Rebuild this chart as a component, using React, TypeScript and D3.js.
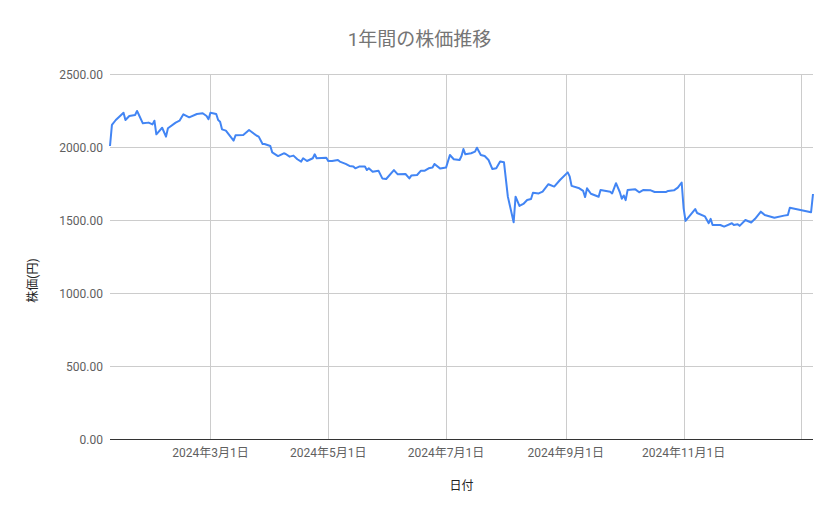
import React, { useEffect, useRef } from "react";
import * as d3 from "d3";

// 日付と終値
const dates = [
  "2024-01-09", "2024-01-10", "2024-01-12", "2024-01-16", "2024-01-17", "2024-01-19", "2024-01-22", "2024-01-23",
  "2024-01-24", "2024-01-26", "2024-01-29", "2024-01-31", "2024-02-01", "2024-02-02", "2024-02-05", "2024-02-07",
  "2024-02-08", "2024-02-12", "2024-02-14", "2024-02-16", "2024-02-19", "2024-02-23", "2024-02-26", "2024-02-28",
  "2024-02-29", "2024-03-01", "2024-03-04", "2024-03-05", "2024-03-06", "2024-03-07", "2024-03-09", "2024-03-13",
  "2024-03-14", "2024-03-18", "2024-03-21", "2024-03-25", "2024-03-26", "2024-03-28", "2024-03-29", "2024-04-01",
  "2024-04-02", "2024-04-05", "2024-04-08", "2024-04-09", "2024-04-11", "2024-04-13", "2024-04-15", "2024-04-17",
  "2024-04-18", "2024-04-20", "2024-04-23", "2024-04-24", "2024-04-25", "2024-04-30", "2024-05-01", "2024-05-03",
  "2024-05-06", "2024-05-07", "2024-05-10", "2024-05-12", "2024-05-14", "2024-05-15", "2024-05-17", "2024-05-20",
  "2024-05-21", "2024-05-22", "2024-05-24", "2024-05-27", "2024-05-29", "2024-05-31", "2024-06-04", "2024-06-06",
  "2024-06-10", "2024-06-12", "2024-06-13", "2024-06-16", "2024-06-18", "2024-06-20", "2024-06-22", "2024-06-24",
  "2024-06-25", "2024-06-28", "2024-07-01", "2024-07-03", "2024-07-05", "2024-07-08", "2024-07-09", "2024-07-10",
  "2024-07-11", "2024-07-14", "2024-07-16", "2024-07-17", "2024-07-19", "2024-07-21", "2024-07-23", "2024-07-25",
  "2024-07-27", "2024-07-29", "2024-07-31", "2024-08-02", "2024-08-05", "2024-08-06", "2024-08-08", "2024-08-10",
  "2024-08-12", "2024-08-14", "2024-08-15", "2024-08-18", "2024-08-20", "2024-08-23", "2024-08-26", "2024-08-29",
  "2024-09-02", "2024-09-03", "2024-09-04", "2024-09-08", "2024-09-10", "2024-09-11", "2024-09-12", "2024-09-14",
  "2024-09-18", "2024-09-19", "2024-09-24", "2024-09-25", "2024-09-27", "2024-09-29", "2024-09-30", "2024-10-01",
  "2024-10-02", "2024-10-03", "2024-10-07", "2024-10-09", "2024-10-11", "2024-10-15", "2024-10-17", "2024-10-23",
  "2024-10-24", "2024-10-27", "2024-10-29", "2024-10-31", "2024-11-01", "2024-11-02", "2024-11-07", "2024-11-08",
  "2024-11-12", "2024-11-14", "2024-11-15", "2024-11-16", "2024-11-20", "2024-11-22", "2024-11-26", "2024-11-27",
  "2024-11-29", "2024-11-30", "2024-12-03", "2024-12-06", "2024-12-08", "2024-12-11", "2024-12-13", "2024-12-18",
  "2024-12-23", "2024-12-25", "2024-12-26", "2025-01-06", "2025-01-07",
];

const prices = [
  2007, 2151, 2185, 2235, 2185, 2212, 2219, 2247,
  2219, 2162, 2167, 2155, 2180, 2087, 2132, 2071,
  2128, 2167, 2180, 2224, 2203, 2226, 2231, 2212,
  2190, 2235, 2226, 2185, 2173, 2121, 2112, 2044,
  2080, 2082, 2116, 2077, 2071, 2021, 2021, 2007,
  1963, 1938, 1957, 1952, 1934, 1941, 1916, 1900,
  1923, 1904, 1923, 1950, 1923, 1927, 1904, 1904,
  1911, 1900, 1884, 1870, 1866, 1854, 1866, 1866,
  1842, 1854, 1831, 1838, 1785, 1781, 1842, 1813,
  1815, 1785, 1804, 1808, 1838, 1838, 1854, 1859,
  1884, 1852, 1859, 1945, 1916, 1911, 1938, 1986,
  1950, 1957, 1968, 1995, 1945, 1938, 1911, 1849,
  1854, 1900, 1895, 1660, 1484, 1660, 1596, 1610,
  1637, 1644, 1687, 1682, 1695, 1745, 1729, 1774,
  1826, 1799, 1734, 1717, 1699, 1657, 1717, 1680,
  1659, 1705, 1694, 1682, 1752, 1690, 1645, 1668,
  1636, 1705, 1710, 1690, 1705, 1703, 1692, 1692,
  1699, 1703, 1722, 1757, 1582, 1494, 1575, 1548,
  1525, 1478, 1508, 1466, 1466, 1455, 1478, 1466,
  1471, 1460, 1500, 1483, 1508, 1557, 1534, 1516,
  1530, 1534, 1584, 1553, 1678,
];

const yTicks = [0, 500, 1000, 1500, 2000, 2500];

const title = "1年間の株価推移";
const xTitle = "日付";
const yTitle = "株価(円)";

const W = 839;
const H = 519;
const margin = { top: 74, right: 26, bottom: 80, left: 110 };
const FONT = "Roboto, 'Noto Sans CJK JP', sans-serif";

export default function App() {
  const svgRef = useRef<SVGSVGElement>(null);

  useEffect(() => {
    if (!svgRef.current) return;
    const svg = d3.select(svgRef.current);
    svg.selectAll("*").remove();

    const parse = d3.timeParse("%Y-%m-%d");
    const data = dates.map((d, i) => ({ date: parse(d) as Date, value: prices[i] }));

    const innerW = W - margin.left - margin.right;
    const innerH = H - margin.top - margin.bottom;

    const x = d3
      .scaleTime()
      .domain(d3.extent(data, (d) => d.date) as [Date, Date])
      .range([0, innerW]);
    const y = d3.scaleLinear().domain([0, 2500]).range([innerH, 0]);

    svg
      .append("rect")
      .attr("width", W)
      .attr("height", H)
      .attr("fill", "#fff");

    svg
      .append("text")
      .attr("x", W / 2)
      .attr("y", 46)
      .attr("text-anchor", "middle")
      .attr("font-family", FONT)
      .attr("font-size", 19)
      .attr("fill", "#757575")
      .text(title);

    const g = svg.append("g").attr("transform", `translate(${margin.left},${margin.top})`);

    // 横グリッド + y目盛り
    g.selectAll(".hgrid")
      .data(yTicks)
      .enter()
      .append("line")
      .attr("x1", 0)
      .attr("x2", innerW)
      .attr("y1", (d) => y(d) + 0.5)
      .attr("y2", (d) => y(d) + 0.5)
      .attr("stroke", "#cccccc");

    g.selectAll(".ylab")
      .data(yTicks)
      .enter()
      .append("text")
      .attr("x", -7)
      .attr("y", (d) => y(d) + 4.5)
      .attr("text-anchor", "end")
      .attr("font-family", FONT)
      .attr("font-size", 12)
      .attr("fill", "#5f5f5f")
      .text((d) => d3.format(".2f")(d));

    // 縦グリッド (2か月ごと)
    const xTicks = d3.timeMonth
      .every(2)!
      .range(x.domain()[0], x.domain()[1])
      .filter((d) => d.getMonth() % 2 === 0);

    g.selectAll(".vgrid")
      .data(xTicks)
      .enter()
      .append("line")
      .attr("x1", (d) => Math.round(x(d)) + 0.5)
      .attr("x2", (d) => Math.round(x(d)) + 0.5)
      .attr("y1", 0)
      .attr("y2", innerH)
      .attr("stroke", "#cccccc");

    const fmt = (d: Date) => `${d.getFullYear()}年${d.getMonth() + 1}月${d.getDate()}日`;

    g.selectAll(".xlab")
      .data(xTicks.filter((d) => margin.left + x(d) + 40 < W))
      .enter()
      .append("text")
      .attr("x", (d) => x(d))
      .attr("y", innerH + 18)
      .attr("text-anchor", "middle")
      .attr("font-family", FONT)
      .attr("font-size", 12)
      .attr("fill", "#5f5f5f")
      .text(fmt);

    // 基準線
    g.append("line")
      .attr("x1", 0)
      .attr("x2", innerW)
      .attr("y1", innerH + 0.5)
      .attr("y2", innerH + 0.5)
      .attr("stroke", "#333333");

    const line = d3
      .line<{ date: Date; value: number }>()
      .x((d) => x(d.date))
      .y((d) => y(d.value));

    g.append("path")
      .datum(data)
      .attr("d", line)
      .attr("fill", "none")
      .attr("stroke", "#4285f4")
      .attr("stroke-width", 2)
      .attr("stroke-linejoin", "round");

    // 軸タイトル
    svg
      .append("text")
      .attr("x", margin.left + innerW / 2)
      .attr("y", 490)
      .attr("text-anchor", "middle")
      .attr("font-family", FONT)
      .attr("font-size", 12)
      .attr("fill", "#222")
      .text(xTitle);

    svg
      .append("text")
      .attr("transform", `translate(37,${margin.top + innerH / 2 + 24}) rotate(-90)`)
      .attr("text-anchor", "middle")
      .attr("font-family", FONT)
      .attr("font-size", 12)
      .attr("fill", "#222")
      .text(yTitle);
  }, []);

  return (
    <svg
      ref={svgRef}
      width={W}
      height={H}
      style={{ position: "absolute", left: 0, top: 0, display: "block" }}
    />
  );
}
